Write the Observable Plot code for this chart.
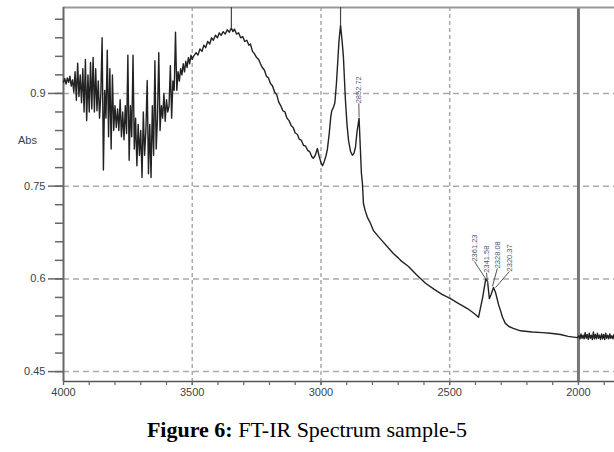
<!DOCTYPE html>
<html><head><meta charset="utf-8">
<script src="https://cdn.jsdelivr.net/npm/d3@7"></script>
<script src="https://cdn.jsdelivr.net/npm/@observablehq/plot@0.6"></script>
<style>
html,body{margin:0;padding:0;background:#fff;}
#chart svg{display:block;}
#caption{font-family:"Liberation Serif","Times New Roman",serif;font-size:22px;line-height:24px;text-align:center;width:614px;color:#000;}
</style></head><body>
<div id="chart"></div>
<div id="caption"><b>Figure 6:</b> FT-IR Spectrum sample-5</div>
<script>
// wavenumber (cm-1), absorbance
const noisyRegion = [
[4000,0.918],[3995,0.924],[3990,0.915],[3985,0.925],[3980,0.918],[3975,0.928],[3970,0.912],[3965,0.922],
[3960,0.902],[3955,0.935],[3950,0.889],[3945,0.949],[3940,0.895],[3935,0.930],[3930,0.885],[3925,0.940],
[3920,0.870],[3915,0.955],[3910,0.856],[3905,0.930],[3900,0.870],[3895,0.950],[3890,0.875],[3885,0.958],
[3880,0.870],[3875,0.940],[3870,0.872],[3865,0.920],[3860,0.860],[3855,0.900],[3850,0.990],[3845,0.776],
[3840,0.905],[3835,0.860],[3830,0.970],[3825,0.830],[3820,0.940],[3815,0.810],[3810,0.930],[3805,0.840],
[3800,0.880],[3795,0.845],[3790,0.875],[3785,0.840],[3780,0.890],[3775,0.830],[3770,0.870],[3765,0.825],
[3760,0.880],[3755,0.835],[3750,0.962],[3745,0.792],[3740,0.880],[3735,0.830],[3730,0.962],[3725,0.810],
[3720,0.860],[3715,0.783],[3710,0.850],[3705,0.800],[3700,0.840],[3695,0.764],[3690,0.870],[3685,0.800],
[3680,0.840],[3675,0.921],[3670,0.770],[3665,0.850],[3660,0.764],[3655,0.880],[3650,0.800],[3645,0.953],
[3640,0.810],[3635,0.860],[3630,0.966],[3625,0.840],[3620,0.880],[3615,0.860],[3610,0.900],[3605,0.855],
[3600,0.890],[3595,0.870],[3590,0.880],[3585,0.945],[3580,0.860],[3575,0.920],[3570,0.905],[3565,0.999],
[3560,0.905],[3555,0.935],[3550,0.920],[3545,0.940],[3540,0.930],[3535,0.948],[3530,0.935],[3525,0.952],
[3520,0.942],[3515,0.958],[3510,0.948],[3505,0.962],[3500,0.955]
];
const broadRegion = [
[3495,0.960],[3485,0.966],[3478,0.962],[3470,0.972],[3462,0.968],[3455,0.978],[3448,0.974],[3440,0.984],
[3432,0.980],[3425,0.990],[3418,0.986],[3410,0.994],[3402,0.990],[3395,0.998],[3388,0.994],[3380,1.000],
[3372,0.996],[3364,1.003],[3356,0.999],[3348,1.006],[3342,1.000],[3336,1.004],[3328,0.996],[3320,0.998],
[3312,0.990],[3304,0.992],[3296,0.984],[3288,0.986],[3280,0.978],[3274,0.980],[3266,0.968],[3258,0.964],
[3250,0.958],[3242,0.955],[3235,0.948],[3228,0.942],[3220,0.938],[3212,0.928],[3204,0.925],[3196,0.916],
[3188,0.912],[3180,0.902],[3172,0.898],[3164,0.886],[3156,0.880],[3148,0.872],[3140,0.870],[3132,0.860],
[3124,0.856],[3116,0.848],[3108,0.845],[3100,0.836],[3092,0.834],[3084,0.826],[3076,0.824],[3068,0.816],
[3060,0.815],[3052,0.808],[3044,0.806],[3036,0.798],[3030,0.795],[3022,0.800],[3014,0.811],[3008,0.800],
[3000,0.788],[2994,0.783],[2987,0.790],[2980,0.800],[2975,0.810],[2968,0.835],[2962,0.862],[2958,0.872],
[2952,0.877],[2946,0.885],[2940,0.916],[2935,0.950],[2930,0.985],[2924,1.010],[2918,0.985],[2913,0.960],
[2905,0.889],[2899,0.850],[2893,0.824],[2885,0.806],[2878,0.800],[2872,0.803],[2866,0.813],[2860,0.838],
[2852,0.860],[2847,0.810],[2843,0.771],[2839,0.754],[2835,0.722],[2828,0.710],[2820,0.700],[2808,0.690],
[2796,0.678],[2776,0.668],[2757,0.659],[2738,0.650],[2719,0.641],[2700,0.634],[2691,0.630],[2660,0.620],
[2630,0.607],[2594,0.593],[2560,0.583],[2530,0.575],[2497,0.568],[2465,0.560],[2431,0.552],[2405,0.544],
[2388,0.538],[2372,0.570],[2360,0.600],[2353,0.596],[2346,0.568],[2340,0.574],[2330,0.586],[2322,0.578],
[2310,0.558],[2303,0.549],[2295,0.538],[2284,0.528],[2270,0.523],[2253,0.520],[2225,0.516],[2180,0.514],
[2140,0.513],[2109,0.512],[2070,0.510],[2040,0.507],[2004,0.505]
];
const tailRegion = [
[1998,0.508],[1994,0.503],[1990,0.511],[1986,0.504],[1982,0.509],[1978,0.503],[1974,0.513],[1970,0.504],
[1966,0.510],[1962,0.502],[1958,0.512],[1954,0.504],[1950,0.509],[1946,0.502],[1942,0.514],[1938,0.503],
[1934,0.510],[1930,0.503],[1926,0.512],[1922,0.504],[1918,0.509],[1914,0.502],[1910,0.511],[1906,0.503],
[1902,0.510],[1898,0.502],[1894,0.512],[1890,0.504],[1886,0.509],[1882,0.503],[1878,0.511],[1874,0.504],
[1870,0.508],[1866,0.503],[1862,0.510],[1860,0.505]
];
const yTicks = [0.45, 0.6, 0.75, 0.9];
const yTickLabels = ["0.45", "0.6", "0.75", "0.9"];
const yMinorTicks = [0.45,0.48,0.51,0.54,0.57,0.6,0.63,0.66,0.69,0.72,0.75,0.78,0.81,0.84,0.87,0.9,0.93,0.96,0.99,1.02];
const xTicks = [4000, 3500, 3000, 2500, 2000];
const xTickLabels = ["4000", "3500", "3000", "2500", "2000"];
const xMinorTicks = [4000,3900,3800,3700,3600,3500,3400,3300,3200,3100,3000,2900,2800,2700,2600,2500,2400,2300,2200,2100,2000,1900];
const xGrid = [3500, 3000, 2500];
const yGrid = [0.45, 0.6, 0.75, 0.9];
const xDomain = [4000, 1860];
const yDomain = [0.434, 1.039];
// peak annotations
const topMarkerWn = [3348, 2924];
const topMarkerAbs = [1.006, 1.010];
const peakLabels = ["2852.72", "2361.23", "2341.58", "2328.08", "2320.37"];
const peakWn = [2852, 2360, 2353, 2334, 2322];
const peakAbs = [0.862, 0.600, 0.592, 0.588, 0.586];
const labelWn = [2853, 2404, 2357, 2315, 2268];
const labelAbs = [0.884, 0.628, 0.610, 0.617, 0.612];

const spectrum = [...noisyRegion, ...broadRegion, ...tailRegion].map(([wn, abs]) => ({wn, abs}));
const annots = peakLabels.map((t, i) => ({t, pw: peakWn[i], pa: peakAbs[i], lw: labelWn[i], la: labelAbs[i]}));
const markers = topMarkerWn.map((w, i) => ({w, a: topMarkerAbs[i]}));

const plot = Plot.plot({
  width: 614, height: 418,
  marginLeft: 63, marginRight: 0, marginTop: 7, marginBottom: 37,
  x: {domain: xDomain},
  y: {domain: yDomain},
  style: {fontFamily: "'Liberation Sans', Arial, sans-serif", background: "#fff"},
  marks: [
    Plot.ruleY(yGrid, {stroke: "#aaa", strokeWidth: 1.5, strokeDasharray: "6,4"}),
    Plot.ruleX(xGrid, {stroke: "#aaa", strokeWidth: 1.5, strokeDasharray: "4,3"}),
    Plot.ruleX([2000], {stroke: "#777", strokeWidth: 3}),
    Plot.ruleY([yDomain[1]], {stroke: "#999", strokeWidth: 2}),
    Plot.ruleY([yDomain[0]], {stroke: "#555", strokeWidth: 1.5}),
    Plot.ruleX([xDomain[0]], {stroke: "#666", strokeWidth: 2}),
    Plot.axisY(yMinorTicks, {tickSize: 8, tickFormat: null, stroke: "#666", strokeWidth: 1.5, text: null}),
    Plot.axisY(yTicks, {tickSize: 15, tickPadding: 3, stroke: "#666", strokeWidth: 1.5, fontSize: 11, fill: "#3a3f4a",
      tickFormat: d => yTickLabels[yTicks.indexOf(d)]}),
    Plot.axisX(xMinorTicks, {tickSize: 4, stroke: "#666", strokeWidth: 1.2, text: null}),
    Plot.axisX(xTicks, {tickSize: 4, tickPadding: 3, stroke: "#666", strokeWidth: 1.2, fontSize: 11, fill: "#3a3f4a",
      tickFormat: d => xTickLabels[xTicks.indexOf(d)]}),
    Plot.text(["Abs"], {x: xDomain[0], y: 0.824, text: d => d, dx: -36, textAnchor: "middle", fontSize: 11, fill: "#3a3f4a"}),
    Plot.line(spectrum, {x: "wn", y: "abs", stroke: "#222", strokeWidth: 1.4}),
    Plot.ruleX(markers, {x: "w", y1: "a", y2: yDomain[1], stroke: "#444", strokeWidth: 1.2}),
    Plot.link(annots, {x1: "pw", y1: "pa", x2: "lw", y2: "la", stroke: "#555", strokeWidth: 1}),
    Plot.text(annots, {x: "lw", y: "la", text: "t", rotate: -90, textAnchor: "start", fontSize: 7.5, fill: "#4a5570"})
  ]
});
document.getElementById("chart").appendChild(plot);
</script>
</body></html>
